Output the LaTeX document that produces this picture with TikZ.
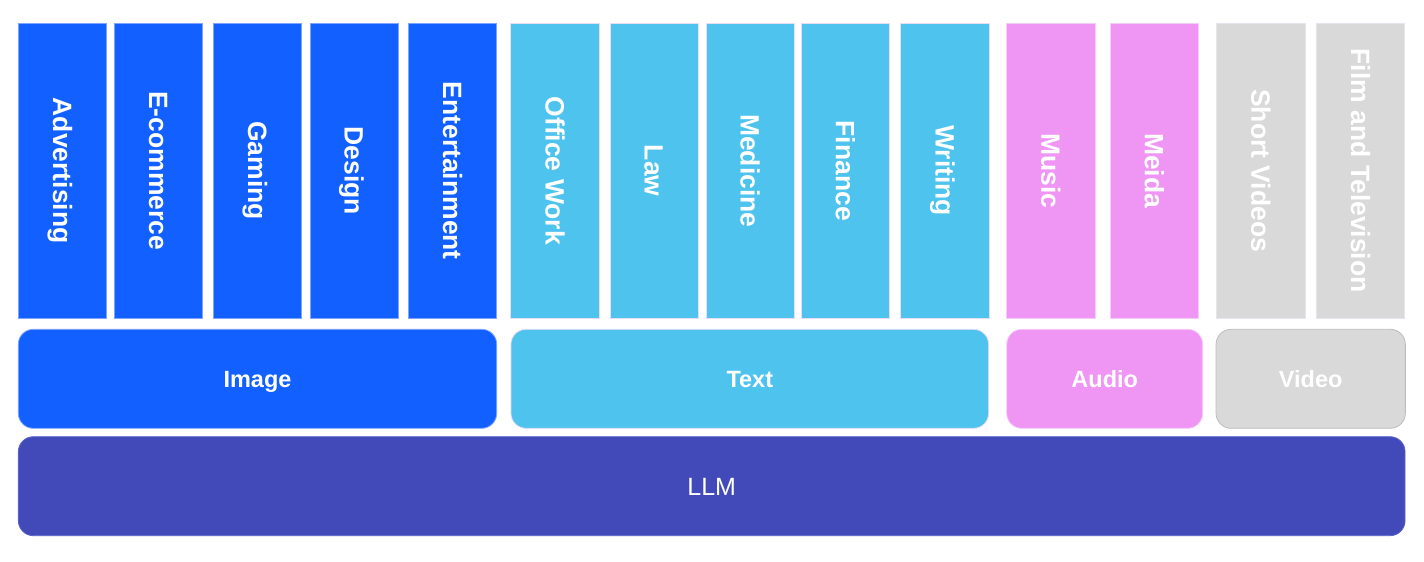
\documentclass[tikz,border=0pt]{standalone}
\usepackage{fontspec}
\setmainfont{Liberation Sans}
\definecolor{imgblue}{HTML}{1160FF}
\definecolor{imgedge}{HTML}{7FA3FF}
\definecolor{txtblue}{HTML}{4EC3EE}
\definecolor{txtedge}{HTML}{E9DDF6}
\definecolor{audpink}{HTML}{EF95F4}
\definecolor{audedge}{HTML}{F6CDF8}
\definecolor{vidgrey}{HTML}{D9D9D9}
\definecolor{videdge}{HTML}{E3E6EC}
\definecolor{videdgeb}{HTML}{BDBDBD}
\definecolor{llmblue}{HTML}{424AB9}
\definecolor{llmedge}{HTML}{5B63C9}
\tikzset{
  colbox/.style={rectangle, inner sep=0pt, outer sep=0pt, line width=0.8pt,
    minimum width=294.7pt, minimum height=88.3pt, rotate=-90, text=white,
    text height=19pt, text depth=0pt,
    font=\fontsize{26.5}{30}\selectfont\bfseries},
  catbox/.style={rectangle, rounded corners=15pt, inner sep=0pt, outer sep=0pt,
    line width=0.8pt, minimum height=99pt, text=white,
    text height=16.8pt, text depth=0pt,
    font=\fontsize{23.5}{26}\selectfont\bfseries},
  imgc/.style={fill=imgblue, draw=imgedge},
  txtc/.style={fill=txtblue, draw=txtedge},
  audc/.style={fill=audpink, draw=audedge},
  vidc/.style={fill=vidgrey, draw=videdge},
}
\begin{document}
\begin{tikzpicture}[x=1pt,y=-1pt]
\useasboundingbox (0,0) rectangle (1424,562);
% top row
\node[colbox,imgc] (adv)  at (62.5,170.7)  {Advertising};
\node[colbox,imgc] (ecom) at (158.5,170.7) {E-commerce};
\node[colbox,imgc] (gam)  at (257.5,170.7) {Gaming};
\node[colbox,imgc] (des)  at (354.2,170.7) {Design};
\node[colbox,imgc] (ent)  at (452.5,170.7) {Entertainment};
\node[colbox,txtc] (off)  at (555.0,170.7) {Office Work};
\node[colbox,txtc] (law)  at (654.2,170.7) {Law};
\node[colbox,txtc] (med)  at (750.2,170.7) {Medicine};
\node[colbox,txtc] (fin)  at (845.3,170.7) {Finance};
\node[colbox,txtc] (wri)  at (945.0,170.7) {Writing};
\node[colbox,audc] (mus)  at (1050.8,170.7) {Music};
\node[colbox,audc] (mei)  at (1154.3,170.7) {Meida};
\node[colbox,vidc] (sho)  at (1260.8,170.7) {Short Videos};
\node[colbox,vidc] (fil)  at (1360.5,170.7) {Film and Television};
% middle row
\node[catbox,imgc,minimum width=478.4pt] (image) at (257.5,378.8) {Image};
\node[catbox,txtc,minimum width=477.7pt] (text)  at (749.8,378.8) {Text};
\node[catbox,audc,minimum width=196pt]   (audio) at (1104.7,378.8) {Audio};
\node[catbox,fill=vidgrey,draw=videdgeb,minimum width=189.3pt] (video) at (1310.7,378.8) {Video};
% bottom
\node[catbox,fill=llmblue,draw=llmedge,minimum width=1386.7pt,
  text height=17.9pt, font=\fontsize{25}{28}\selectfont] (llm) at (711.7,486.2) {LLM};
\end{tikzpicture}
\end{document}
